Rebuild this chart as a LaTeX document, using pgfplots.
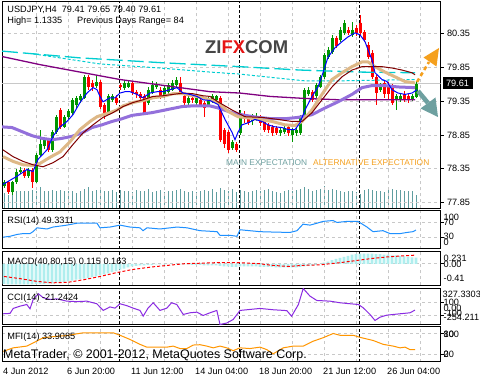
\documentclass[border=0pt]{standalone}
\usepackage{pgfplots}
\pgfplotsset{compat=1.18}
\usepackage{pgfplotstable}
\usepackage{fontspec}
\setmainfont{Liberation Sans}
\definecolor{mtgreen}{RGB}{0,150,0}
\definecolor{mtred}{RGB}{255,0,0}
\definecolor{volcol}{RGB}{95,158,160}
\definecolor{maroonc}{RGB}{128,0,0}
\definecolor{tanc}{RGB}{222,184,135}
\definecolor{mpurple}{RGB}{147,112,219}
\definecolor{dpurple}{RGB}{128,0,128}
\definecolor{cyanc}{RGB}{0,206,209}
\definecolor{rsic}{RGB}{30,144,255}
\definecolor{ccic}{RGB}{138,43,226}
\definecolor{mfic}{RGB}{255,150,0}
\definecolor{macdc}{RGB}{175,238,238}
\definecolor{gridc}{RGB}{200,200,200}
\definecolor{mainexp}{RGB}{110,160,160}
\definecolor{altexp}{RGB}{245,160,30}
\definecolor{logogray}{RGB}{70,70,70}
\definecolor{logored}{RGB}{230,20,20}
\newcommand\sm{\fontsize{9.2}{10}\selectfont}

\pgfplotstableread{
i o h l c
0 78.09 78.18 78.06 78.15
2 78.00 78.17 77.97 78.15
3 78.15 78.34 78.13 78.31
4 78.31 78.38 78.28 78.33
6 78.24 78.36 78.22 78.33
8 78.16 78.58 78.14 78.56
9 78.56 78.93 78.52 78.71
10 78.68 78.82 78.65 78.78
12 78.63 78.93 78.60 78.90
13 78.90 79.14 78.87 79.11
15 78.97 79.15 78.95 79.12
16 79.12 79.24 79.08 79.20
17 79.18 79.40 79.15 79.37
18 79.30 79.43 79.25 79.40
19 79.36 79.46 79.33 79.42
20 79.40 79.74 79.38 79.70
23 79.58 79.72 79.55 79.63
26 79.18 79.45 79.15 79.42
27 79.37 79.46 79.34 79.42
30 79.55 79.66 79.52 79.62
31 79.56 79.65 79.54 79.62
36 79.33 79.56 79.30 79.52
37 79.47 79.65 79.45 79.59
38 79.56 79.63 79.53 79.59
40 79.42 79.58 79.40 79.55
41 79.49 79.62 79.46 79.59
42 79.52 79.67 79.50 79.62
43 79.59 79.70 79.56 79.66
46 79.33 79.43 79.30 79.40
48 79.33 79.42 79.30 79.40
51 79.30 79.43 79.27 79.40
52 79.34 79.45 79.32 79.42
53 79.37 79.44 79.33 79.42
57 78.66 78.77 78.63 78.74
59 78.88 79.22 78.85 79.18
62 79.05 79.16 79.00 79.12
63 79.08 79.17 79.05 79.12
69 78.88 78.96 78.84 78.93
70 78.90 78.98 78.86 78.95
72 78.85 78.96 78.75 78.93
73 78.88 78.96 78.84 78.93
74 78.88 79.15 78.85 79.12
75 79.12 79.55 79.10 79.52
76 79.45 79.56 79.42 79.52
78 79.42 79.62 79.40 79.59
79 79.56 79.73 79.54 79.70
80 79.70 80.06 79.68 80.03
81 80.00 80.15 79.97 80.11
82 80.08 80.33 80.05 80.29
84 80.26 80.44 80.23 80.40
85 80.36 80.55 80.33 80.51
87 80.33 80.52 80.30 80.40
94 79.52 79.62 79.48 79.59
98 79.37 79.45 79.22 79.42
99 79.37 79.45 79.34 79.42
102 79.37 79.45 79.35 79.42
103 79.41 79.65 79.40 79.61
}\greentab

\pgfplotstableread{
i o h l c
1 78.15 78.17 77.98 78.00
5 78.33 78.36 78.22 78.24
7 78.33 78.36 78.07 78.16
11 78.78 78.80 78.60 78.63
14 79.22 79.25 78.94 78.97
21 79.70 79.74 79.52 79.56
22 79.62 79.66 79.50 79.56
24 79.63 79.66 79.24 79.27
25 79.30 79.33 79.08 79.15
28 79.40 79.44 79.30 79.33
29 79.59 79.62 79.52 79.56
32 79.62 79.64 79.44 79.47
33 79.49 79.52 79.40 79.45
34 79.45 79.48 79.36 79.40
35 79.42 79.45 79.15 79.18
39 79.52 79.56 79.38 79.42
44 79.62 79.71 79.45 79.47
45 79.42 79.45 79.28 79.33
47 79.40 79.42 79.33 79.37
49 79.37 79.40 79.28 79.30
50 79.33 79.35 79.12 79.25
54 79.40 79.43 78.74 78.78
55 78.93 78.95 78.66 78.71
56 78.90 78.92 78.59 78.63
58 78.71 78.74 78.60 78.63
60 79.15 79.20 79.03 79.08
61 79.12 79.15 79.00 79.03
64 79.11 79.14 78.98 79.03
65 79.05 79.08 78.90 78.93
66 79.00 79.03 78.88 78.93
67 78.97 79.00 78.84 78.88
68 78.95 78.98 78.85 78.88
71 78.97 79.00 78.84 78.88
77 79.49 79.52 79.34 79.37
83 80.29 80.32 80.13 80.16
86 80.40 80.44 80.33 80.36
88 80.43 80.47 80.32 80.36
89 80.51 80.62 80.32 80.36
90 80.37 80.40 80.22 80.26
91 80.18 80.22 79.97 80.00
92 80.06 80.10 79.68 79.71
93 79.70 79.73 79.30 79.47
95 79.62 79.65 79.40 79.45
96 79.59 79.63 79.38 79.45
97 79.56 79.60 79.30 79.33
100 79.45 79.50 79.34 79.37
101 79.42 79.45 79.33 79.37
}\redtab

\pgfplotstableread{
i v
0 15
1 13
2 15
3 17
4 17
5 17
6 17
7 18
8 17
9 21
10 17
11 17
12 18
13 17
14 18
15 17
16 17
17 17
18 15
19 17
20 19
21 21
22 17
23 18
24 19
25 17
26 17
27 18
28 16
29 18
30 17
31 17
32 16
33 18
34 17
35 17
36 19
37 16
38 17
39 18
40 16
41 17
42 17
43 18
44 19
45 17
46 16
47 17
48 16
49 17
50 18
51 17
52 19
53 16
54 20
55 18
56 17
57 19
58 16
59 18
60 17
61 16
62 17
63 18
64 17
65 18
66 19
67 17
68 16
69 15
70 17
71 18
72 17
73 18
74 19
75 21
76 19
77 17
78 18
79 19
80 22
81 18
82 19
83 18
84 17
85 16
86 17
87 17
88 16
89 14
90 18
91 19
92 18
93 17
94 17
95 16
96 18
97 19
98 18
99 18
100 17
101 17
102 17
103 13
}\voltab

\pgfplotstableread{
i v
0 -0.38
1 -0.39
2 -0.39
3 -0.39
4 -0.39
5 -0.39
6 -0.39
7 -0.39
8 -0.38
9 -0.38
10 -0.38
11 -0.37
12 -0.37
13 -0.36
14 -0.35
15 -0.34
16 -0.33
17 -0.32
18 -0.30
19 -0.29
20 -0.28
21 -0.27
22 -0.25
23 -0.24
24 -0.22
25 -0.20
26 -0.18
27 -0.16
28 -0.14
29 -0.11
30 -0.09
31 -0.07
32 -0.05
33 -0.04
34 -0.03
35 -0.03
36 -0.02
37 -0.02
38 -0.01
39 -0.01
40 -0.01
41 0.00
42 0.00
43 0.00
44 -0.01
45 -0.01
46 -0.01
47 -0.02
48 -0.02
49 -0.02
50 -0.03
51 -0.03
52 -0.03
53 -0.03
54 -0.04
55 -0.05
56 -0.05
57 -0.06
58 -0.06
59 -0.05
60 -0.05
61 -0.05
62 -0.05
63 -0.05
64 -0.06
65 -0.06
66 -0.06
67 -0.06
68 -0.07
69 -0.07
70 -0.07
71 -0.07
72 -0.07
73 -0.07
74 -0.06
75 -0.05
76 -0.04
77 -0.03
78 -0.02
79 0.00
80 0.02
81 0.04
82 0.07
83 0.09
84 0.11
85 0.13
86 0.15
87 0.17
88 0.18
89 0.19
90 0.19
91 0.19
92 0.19
93 0.18
94 0.18
95 0.17
96 0.17
97 0.16
98 0.16
99 0.15
100 0.14
101 0.13
102 0.12
103 0.115
}\macdtab

\pgfplotsset{
 mt/.style={
  scale only axis, width=438.5bp,
  xmin=-0.5, xmax=109.125,
  anchor=north west,
  axis line style={black, line width=1bp},
  xtick={8,16,...,104}, xticklabels={}, xtick style={draw=none},
  xmajorgrids, ymajorgrids,
  grid style={draw=gridc, dash pattern=on 3bp off 3bp, line width=0.8bp},
  extra x ticks={28.75,58.75,88.75}, extra x tick labels={},
  extra x tick style={grid=major, major grid style={draw=black, dash pattern=on 3bp off 2bp, line width=0.9bp}},
  ytick pos=right, yticklabel pos=right, tick align=outside, major tick length=3bp,
  ytick style={black, line width=0.8bp},
 }
}

\begin{document}
\begin{tikzpicture}
\useasboundingbox (0,0) rectangle (480bp,380bp);
\fill[white] (0,0) rectangle (480bp,380bp);

% volume overlay
\begin{axis}[at={(2bp,378bp)}, anchor=north west, scale only axis, width=438.5bp, height=206.5bp,
  xmin=-0.5, xmax=109.125, ymin=0, ymax=206.5, hide axis]
\addplot[ycomb, draw=volcol, line width=1bp, mark=none] table[x=i, y=v] {\voltab};
\end{axis}

% main price panel
\begin{axis}[mt, at={(2bp,378bp)}, height=206.5bp, ymin=77.7631, ymax=80.8161,
  ytick={77.85,78.35,78.85,79.35,79.85,80.35},
  yticklabel style={font=\sm, /pgf/number format/fixed, /pgf/number format/fixed zerofill, /pgf/number format/precision=2, /pgf/number format/assume math mode=true}]
\draw[gridc, line width=0.8bp] (axis cs:-0.5,79.61) -- (axis cs:109.125,79.61);
% wicks
\addplot[draw=none, mark=none, error bars/.cd, y dir=both, y explicit, error mark=none,
  error bar style={draw=mtgreen, line width=1bp, solid}]
  table[x=i, y=o, y error plus expr=\thisrow{h}-\thisrow{o}, y error minus expr=\thisrow{o}-\thisrow{l}] {\greentab};
\addplot[draw=none, mark=none, error bars/.cd, y dir=both, y explicit, error mark=none,
  error bar style={draw=mtred, line width=1bp, solid}]
  table[x=i, y=o, y error plus expr=\thisrow{h}-\thisrow{o}, y error minus expr=\thisrow{o}-\thisrow{l}] {\redtab};
% bodies
\addplot[draw=none, mark=none, error bars/.cd, y dir=plus, y explicit, error mark=none,
  error bar style={draw=mtgreen, line width=3bp, solid}]
  table[x=i, y=o, y error plus expr=\thisrow{c}-\thisrow{o}] {\greentab};
\addplot[draw=none, mark=none, error bars/.cd, y dir=minus, y explicit, error mark=none,
  error bar style={draw=mtred, line width=3bp, solid}]
  table[x=i, y=o, y error minus expr=\thisrow{o}-\thisrow{c}] {\redtab};
% moving averages
\addplot[cyanc, line width=1.3bp, dash pattern=on 16bp off 5bp] coordinates {(-0.5,80.09)(19,79.99)(39,79.92)(59,79.86)(74,79.81)(89,79.78)(102.75,79.77)};
\addplot[cyanc, line width=1bp, dash pattern=on 3bp off 2bp] coordinates {(7.25,80.05)(24,79.90)(39,79.84)(51.5,79.78)(59,79.75)(67,79.70)(75.25,79.65)(84,79.65)(102.75,79.67)};
\addplot[dpurple, line width=1.3bp] coordinates {(-0.5,80.01)(9,79.89)(19,79.78)(29,79.67)(39,79.59)(51.5,79.49)(59,79.47)(66.5,79.42)(75.25,79.39)(84,79.37)(102.75,79.37)};
\addplot[mpurple, line width=3bp] coordinates {(-0.5,78.97)(2,78.96)(4.5,78.90)(7,78.84)(9.5,78.80)(12,78.78)(14.5,78.80)(17,78.83)(19.5,78.88)(22,78.96)(24.5,79.00)(27,79.05)(29.5,79.09)(32,79.14)(34.5,79.16)(37,79.18)(39.5,79.21)(42,79.24)(44.5,79.27)(47,79.28)(49.5,79.28)(51.5,79.28)(53.5,79.25)(57,79.18)(60.25,79.14)(63.5,79.11)(67,79.09)(70.25,79.09)(73.5,79.11)(77,79.15)(80.25,79.25)(83.5,79.34)(87,79.45)(89.5,79.55)(92,79.58)(95.25,79.58)(98.5,79.56)(102.75,79.55)};
\addplot[tanc, line width=3bp] coordinates {(-0.25,78.53)(2.25,78.46)(4.75,78.41)(7.25,78.40)(9,78.43)(11.5,78.52)(14,78.60)(16.5,78.75)(19,78.93)(21.5,79.05)(23.25,79.12)(24.75,79.15)(26.5,79.18)(28.25,79.22)(29.75,79.28)(32.25,79.33)(34.75,79.36)(37.25,79.40)(39.75,79.42)(42.25,79.46)(44.75,79.46)(47.25,79.43)(49.75,79.40)(51.5,79.37)(53.5,79.33)(56,79.20)(58.5,79.12)(62.75,79.09)(67,79.05)(70.25,79.00)(72.75,78.99)(74.5,79.05)(77,79.22)(79.5,79.45)(82,79.67)(84.5,79.77)(87,79.86)(89.5,79.93)(91,79.93)(92.75,79.86)(95.25,79.78)(97.75,79.71)(100.25,79.64)(102.75,79.62)};
\addplot[maroonc, line width=1bp] coordinates {(-0.25,78.63)(2.25,78.53)(4.75,78.46)(7.25,78.41)(9.75,78.38)(12.25,78.44)(14.75,78.53)(17.25,78.71)(19.75,78.88)(22.25,79.00)(24.75,79.11)(27.25,79.18)(29.75,79.27)(32.25,79.33)(34.75,79.37)(37.25,79.42)(39.75,79.43)(42.25,79.45)(44.75,79.47)(47.25,79.46)(49.75,79.43)(51.5,79.42)(53.5,79.34)(57,79.22)(60.25,79.12)(64.5,79.11)(68.5,79.08)(72,79.05)(74.5,79.05)(77,79.18)(79.5,79.37)(82,79.56)(84.5,79.71)(87,79.81)(89.5,79.86)(92,79.86)(94.5,79.86)(97,79.84)(99.5,79.81)(102,79.77)(102.75,79.74)};
\addplot[blue, line width=1bp] coordinates {(-0.25,78.12)(3.25,78.24)(5.75,78.34)(7.25,78.31)(8.5,78.49)(10.75,78.63)(12.25,78.83)(14,78.97)(15.75,79.05)(17.25,79.15)(19,79.33)(20.75,79.47)(22.25,79.55)(23.25,79.52)(24,79.42)(24.75,79.34)(26.5,79.40)(27.75,79.40)(29,79.47)(30.25,79.49)(31.5,79.49)(33.25,79.45)(34.75,79.40)(36.5,79.47)(38.25,79.49)(39.75,79.49)(41.5,79.52)(43.25,79.55)(44.75,79.47)(46.5,79.45)(48.25,79.42)(49.75,79.37)(51.5,79.36)(53.5,79.30)(55.25,79.08)(57,78.89)(57.75,78.78)(58.5,78.89)(59.5,79.00)(61,79.03)(62.75,79.08)(64.5,79.05)(66,79.00)(67.75,78.97)(69.5,78.96)(71,78.93)(72.75,78.93)(74,79.03)(75.25,79.22)(77,79.42)(78.5,79.56)(79.75,79.77)(81,80.00)(82.75,80.14)(84.5,80.23)(86,80.30)(87.75,80.36)(89,80.33)(90.25,80.23)(91,80.11)(92,79.96)(92.75,79.77)(94.5,79.67)(95.75,79.64)(97,79.52)(98.5,79.47)(100.25,79.45)(102,79.47)(103.25,79.52)};
\end{axis}

% RSI
\begin{axis}[mt, at={(2bp,169.5bp)}, height=38.5bp, ymin=0, ymax=100, ytick={30,70}, yticklabels={}]
\addplot[rsic, line width=1bp] coordinates {(-0.25,30.7)(1.5,33)(3.25,37.8)(4.75,40)(6.5,40)(7.25,45)(8.25,55)(10.75,52)(12.25,57)(15.75,62)(18.25,67)(20.75,67)(23.25,67)(24,55)(26.5,57)(29,62)(31.5,57)(34,55)(34.75,47.6)(35.75,55)(39,52)(43.25,57)(45.75,55)(49,47.6)(53.25,45)(54,35.6)(56.5,35.6)(58.25,33)(59,50)(64,45)(67.25,44)(71.5,43)(73.25,47.6)(74.75,64.5)(76.5,62)(78.25,67)(79.75,71.7)(82.25,74)(83.25,69)(85.75,71.7)(88.5,71.7)(90.75,57)(92.25,45)(94.75,47.6)(96.5,40)(99,40)(100.75,43)(102.25,45)(103,49.3)};
\end{axis}

% MACD
\begin{axis}[mt, at={(2bp,128.5bp)}, height=34bp, ymin=-0.41, ymax=0.231, ytick={0}, yticklabels={}]
\addplot[ybar, bar width=2.6bp, fill=macdc, draw=none] table[x=i, y=v] {\macdtab};
\addplot[mtred, line width=1bp, dash pattern=on 3bp off 2bp] coordinates {(0,-0.24)(4,-0.28)(8,-0.33)(12,-0.36)(16,-0.35)(20,-0.30)(24,-0.24)(28,-0.17)(32,-0.11)(37,-0.06)(41,-0.03)(45,0.00)(49,0.01)(53,0.02)(59,0.02)(64,0.00)(67,-0.03)(71,-0.05)(75,-0.03)(79,-0.02)(84,0.02)(88,0.06)(92,0.10)(96,0.13)(100,0.15)(103,0.163)};
\end{axis}

% CCI
\begin{axis}[mt, at={(2bp,91.5bp)}, height=36bp, ymin=-254.211, ymax=327.3303, ytick={-100,100}, yticklabels={}]
\addplot[ccic, line width=1bp] coordinates {(-0.2,-81)(1.5,-75)(2.3,5)(4,42)(5.7,69)(6.5,0)(7.3,150)(8.6,242)(9.8,178)(11.5,150)(13.2,160)(15.7,123)(18.2,115)(20.7,123)(23.2,81)(24.8,-27)(26.5,30)(27.75,10)(29,81)(30.7,50)(32.3,10)(34,-27)(34.8,-120)(36,10)(37.3,97)(39,-27)(40.7,10)(41.9,97)(43.2,69)(44.8,-92)(46.5,-65)(48.2,-55)(49.8,-108)(51.5,-65)(53.2,-27)(54,-254)(55.7,-230)(57.3,-173)(59,-27)(64,5)(67.3,-16)(70.7,-30)(71.9,-120)(73.6,69)(74.8,327)(76.5,204)(78.2,134)(81.5,123)(84,97)(86.5,81)(88.6,69)(89.8,16)(91.5,-92)(92.75,-189)(94,-136)(95.7,-103)(99,-81)(101.5,-65)(102.75,-21.24)};
\end{axis}

% MFI
\begin{axis}[mt, at={(2bp,53.5bp)}, height=35bp, ymin=0, ymax=100, ytick={20,80}, yticklabels={}]
\addplot[mfic, line width=1bp] coordinates {(-0.2,29)(2.3,39)(5.7,44)(7.3,53)(9.8,68)(13.2,72)(15.7,74)(18.2,79)(19.8,82)(27.3,82)(29,75)(31.5,63)(34,49)(35.7,41)(40.7,41)(42.3,44)(44,37)(45.7,37)(47.3,47)(49,48)(50.7,44)(52.3,39)(54,44)(55.7,39)(57.3,31)(59,39)(61.5,37)(64,41)(65.7,34)(67.3,22)(69.8,39)(72.3,44)(74.8,44)(77.3,58)(79.8,68)(82.3,80)(84,75)(87.3,75)(89,69)(92.3,60)(94.8,49)(97.3,44)(99,39)(100.25,41)(101.5,34)(102.75,33.9)};
\end{axis}

% texts
\node[anchor=west, inner sep=0] at (7.3bp,370bp) {\sm USDJPY,H4\ \ 79.41 79.65 79.40 79.61};
\node[anchor=west, inner sep=0] at (7.3bp,359bp) {\sm High= 1.1335};
\node[anchor=west, inner sep=0] at (77bp,359bp) {\sm Previous Days Range= 84};
\node[anchor=west, inner sep=0] at (205bp,332.5bp) {\fontsize{18.5}{20}\selectfont\bfseries\textcolor{logogray}{ZI}\textcolor{logored}{FX}\textcolor{logogray}{COM}};
\node[anchor=west, inner sep=0, text=mainexp] at (226bp,217bp) {\fontsize{8.4}{9}\selectfont MAIN EXPECTATION};
\node[anchor=west, inner sep=0, text=altexp] at (313bp,217bp) {\fontsize{8.4}{9}\selectfont ALTERNATIVE EXPECTATION};

% arrows
\draw[altexp, line width=2.5bp, dash pattern=on 4bp off 3bp] (417bp,298bp) -- (429bp,318bp);
\fill[altexp] (439bp,332bp) -- (423.5bp,322.5bp) -- (436.5bp,313.5bp) -- cycle;
\draw[mainexp, line width=4.5bp] (418bp,289bp) -- (428bp,277bp);
\fill[mainexp] (438bp,263bp) -- (435.5bp,282.5bp) -- (420.5bp,271.5bp) -- cycle;

% current price box
\fill[black] (442.5bp,302.5bp) rectangle (472.5bp,291bp);
\node[text=white, inner sep=0] at (457.5bp,296.8bp) {\sm 79.61};

% indicator labels
\node[anchor=west, inner sep=0] at (7.3bp,159bp) {\sm RSI(14) 49.3311};
\node[anchor=west, inner sep=0] at (7.3bp,118bp) {\sm MACD(40,80,15) 0.115 0.163};
\node[anchor=west, inner sep=0] at (7.3bp,82bp) {\sm CCI(14) -21.2424};
\node[anchor=west, inner sep=0] at (7.3bp,43bp) {\sm MFI(14) 33.9085};
\node[anchor=west, inner sep=0] at (3bp,24.5bp) {\fontsize{12.5}{13}\selectfont MetaTrader, \textcopyright{} 2001-2012, MetaQuotes Software Corp.};

% right scale labels of indicator panels
\begin{scope}[every node/.style={anchor=west, inner sep=0, font=\sm}]
\node at (443.5bp,162.5bp) {100};
\node at (443.5bp,157.5bp) {70};
\node at (443.5bp,143.5bp) {30};
\node at (443.5bp,138bp) {0};
\node at (443.5bp,122bp) {0.231};
\node at (443.5bp,116bp) {0.00};
\node at (443.5bp,101.3bp) {-0.41};
\node at (442.5bp,85.5bp) {327.3303};
\node at (443.5bp,77.5bp) {100};
\node at (443.5bp,71.5bp) {0.00};
\node at (443.5bp,66.5bp) {-100};
\node at (443.5bp,62.5bp) {-254.211};
\node at (443.5bp,45.5bp) {100};
\node at (443.5bp,45.5bp) {80};
\node at (443.5bp,26bp) {20};
\node at (443.5bp,26bp) {0};
\end{scope}

% date labels
\begin{scope}[every node/.style={anchor=west, inner sep=0, font=\sm}]
\node at (3bp,9bp) {4 Jun 2012};
\node at (67bp,9bp) {6 Jun 20:00};
\node at (131bp,9bp) {11 Jun 12:00};
\node at (195bp,9bp) {14 Jun 04:00};
\node at (259bp,9bp) {18 Jun 20:00};
\node at (323bp,9bp) {21 Jun 12:00};
\node at (387bp,9bp) {26 Jun 04:00};
\end{scope}
\end{tikzpicture}
\end{document}
